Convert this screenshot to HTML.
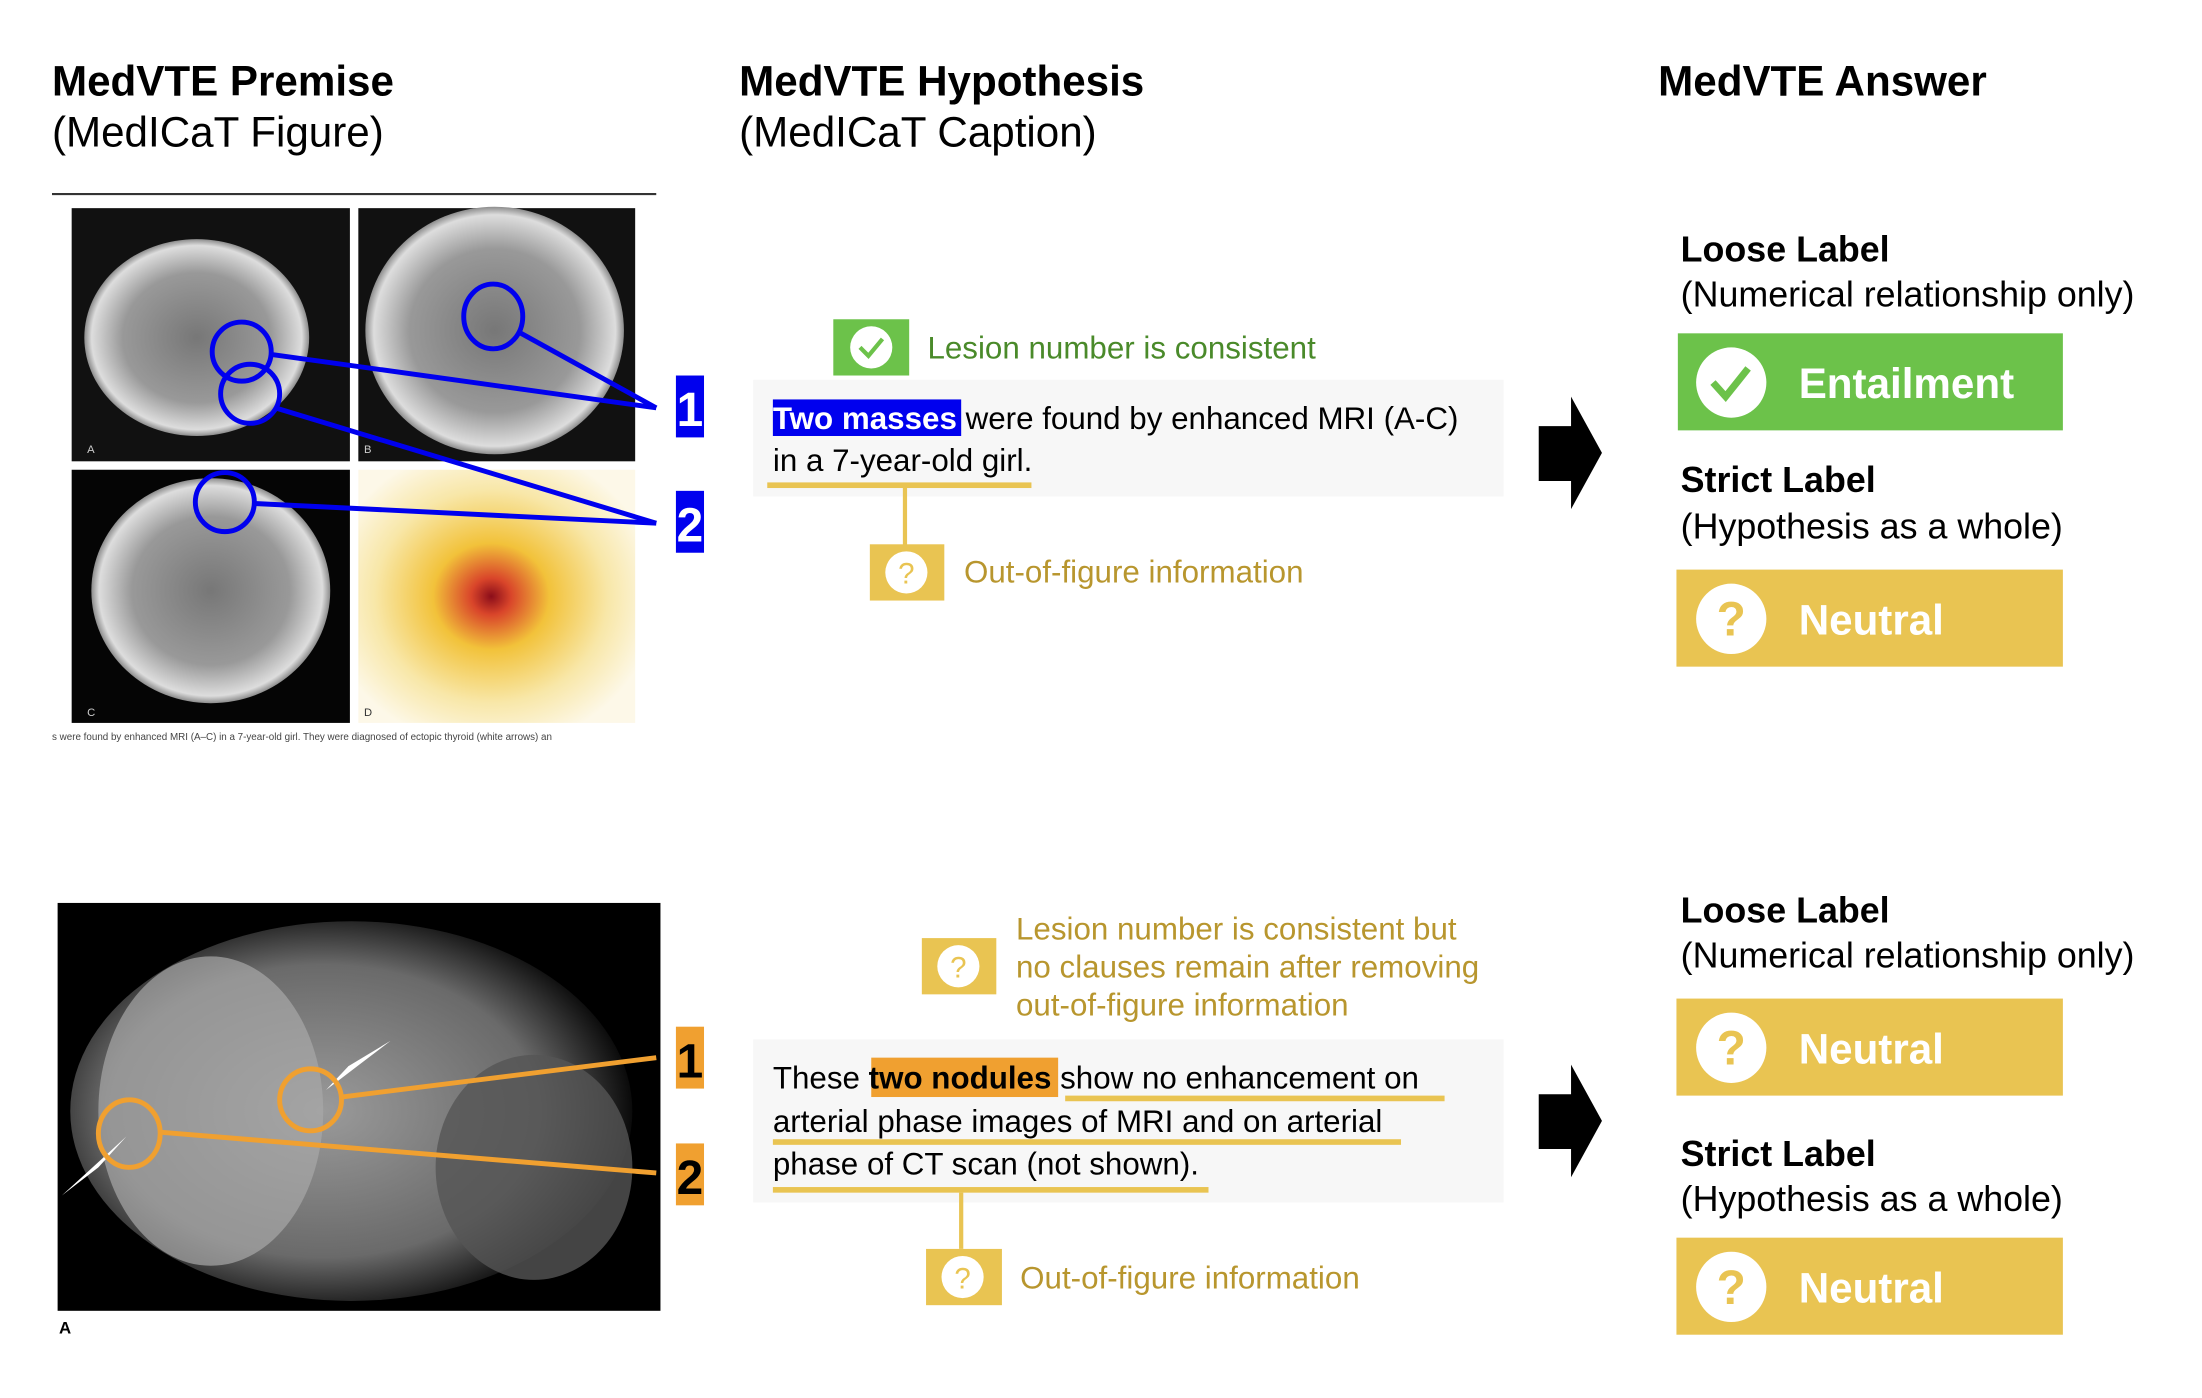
<!DOCTYPE html>
<html><head><meta charset="utf-8"><style>
html,body{margin:0;padding:0;background:#fff;}
svg{display:block;font-family:"Liberation Sans",Arial,sans-serif;}
</style></head><body>
<svg width="2202" height="1398" viewBox="0 0 1567 994" preserveAspectRatio="none">
<defs>
<radialGradient id="hot" cx="0.48" cy="0.5" r="0.6"><stop offset="0" stop-color="#8b0d1a"/><stop offset="0.12" stop-color="#d9452a"/><stop offset="0.35" stop-color="#f2c23a"/><stop offset="0.7" stop-color="#f8e7a8"/><stop offset="1" stop-color="#fdf8e8"/></radialGradient>
<radialGradient id="mri" cx="0.5" cy="0.5" r="0.55"><stop offset="0" stop-color="#777"/><stop offset="0.6" stop-color="#999"/><stop offset="0.85" stop-color="#ddd"/><stop offset="1" stop-color="#111"/></radialGradient>
<radialGradient id="ct" cx="0.45" cy="0.5" r="0.55"><stop offset="0" stop-color="#9a9a9a"/><stop offset="0.7" stop-color="#6a6a6a"/><stop offset="1" stop-color="#0a0a0a"/></radialGradient>
</defs>

<g>
<text x="37" y="68" font-size="30" font-weight="bold">MedVTE Premise</text>
<text x="37" y="104" font-size="30">(MedICaT Figure)</text></g>
<g>
<text x="526" y="68" font-size="30" font-weight="bold">MedVTE Hypothesis</text>
<text x="526" y="104" font-size="30">(MedICaT Caption)</text></g>
<text x="1180" y="68" font-size="30" font-weight="bold">MedVTE Answer</text>
<line x1="37" y1="138" x2="467" y2="138" stroke="#333" stroke-width="1.5"/>

<g><rect x="51" y="148" width="198" height="180" fill="#111"/><ellipse cx="140" cy="240" rx="80" ry="70" fill="url(#mri)"/><text x="62" y="322" font-size="8" fill="#ccc">A</text></g>
<g><rect x="255" y="148" width="197" height="180" fill="#111"/><ellipse cx="352" cy="235" rx="92" ry="88" fill="url(#mri)"/><text x="259" y="322" font-size="8" fill="#ccc">B</text></g>
<g><rect x="51" y="334" width="198" height="180" fill="#050505"/><ellipse cx="150" cy="420" rx="85" ry="80" fill="url(#mri)"/><text x="62" y="509" font-size="8" fill="#ccc">C</text></g>
<g><rect x="255" y="334" width="197" height="180" fill="url(#hot)"/><text x="259" y="509" font-size="8" fill="#333">D</text></g>
<text x="37" y="526" font-size="7" fill="#444">s were found by enhanced MRI (A–C) in a 7-year-old girl. They were diagnosed of ectopic thyroid (white arrows) an</text>

<g stroke="#0000ee" stroke-width="3.5" fill="none">
<circle cx="172" cy="250" r="21"/><circle cx="178" cy="280" r="21"/><ellipse cx="351" cy="225" rx="21" ry="23"/><circle cx="160" cy="357" r="21"/>
<line x1="193" y1="252" x2="467" y2="290"/><line x1="369" y1="236" x2="467" y2="290"/>
<line x1="196" y1="290" x2="467" y2="372"/><line x1="181" y1="358" x2="467" y2="372"/></g>
<g><rect x="481" y="267" width="20" height="44" fill="#0000ee"/><text x="491" y="303" font-size="34" font-weight="bold" fill="#fff" text-anchor="middle">1</text></g>
<g><rect x="481" y="349" width="20" height="44" fill="#0000ee"/><text x="491" y="385" font-size="34" font-weight="bold" fill="#fff" text-anchor="middle">2</text></g>

<g><rect x="593" y="227" width="54" height="40" fill="#6cc24a"/><circle cx="620" cy="247" r="15" fill="#fff"/><path d="M612 247 l6 6 l10 -12" stroke="#6cc24a" stroke-width="3" fill="none"/>
<text x="660" y="255" font-size="22.3" fill="#4a8a2a">Lesion number is consistent</text></g>
<g><rect x="536" y="270" width="534" height="83" fill="#f7f7f7"/>
<rect x="550" y="284" width="134" height="26" fill="#0000ee"/>
<text x="550" y="305" font-size="22.3"><tspan font-weight="bold" fill="#fff">Two masses</tspan><tspan fill="#000"> were found by enhanced MRI (A-C)</tspan></text>
<text x="550" y="335" font-size="22.3">in a 7-year-old girl.</text>
<rect x="546" y="343" width="188" height="4" fill="#e9c452"/></g>
<line x1="644" y1="347" x2="644" y2="388" stroke="#e9c452" stroke-width="3"/>
<g><rect x="619" y="387" width="53" height="40" fill="#e9c452"/><circle cx="645" cy="407" r="15" fill="#fff"/><text x="645" y="415" font-size="21" fill="#e9c452" text-anchor="middle">?</text>
<text x="686" y="414" font-size="22.3" fill="#b8962e">Out-of-figure information</text></g>
<path d="M1095 303 H1118 V282 L1140 322 L1118 362 V342 H1095 Z" fill="#000"/>

<g><text x="1196" y="186" font-size="25.5" font-weight="bold">Loose Label</text><text x="1196" y="218" font-size="25.5">(Numerical relationship only)</text></g>
<g><rect x="1194" y="237" width="274" height="69" fill="#6cc24a"/><circle cx="1232" cy="272" r="25" fill="#fff"/><path d="M1219 272 l9 10 l16 -20" stroke="#6cc24a" stroke-width="5" fill="none"/><text x="1280" y="283" font-size="30" font-weight="bold" fill="#fff">Entailment</text></g>
<g><text x="1196" y="350" font-size="25.5" font-weight="bold">Strict Label</text><text x="1196" y="383" font-size="25.5">(Hypothesis as a whole)</text></g>
<g><rect x="1193" y="405" width="275" height="69" fill="#e9c452"/><circle cx="1232" cy="440" r="25" fill="#fff"/><text x="1232" y="452" font-size="34" font-weight="bold" fill="#e9c452" text-anchor="middle">?</text><text x="1280" y="451" font-size="30" font-weight="bold" fill="#fff">Neutral</text></g>

<g><rect x="41" y="642" width="429" height="290" fill="#000"/><ellipse cx="250" cy="790" rx="200" ry="135" fill="url(#ct)"/><ellipse cx="150" cy="790" rx="80" ry="110" fill="#a8a8a8" opacity="0.7"/><ellipse cx="380" cy="830" rx="70" ry="80" fill="#555" opacity="0.8"/>
<polygon points="44,850 90,808 70,830" fill="#fff"/><polygon points="278,740 232,775 248,758" fill="#fff"/>
<text x="42" y="948" font-size="12" font-weight="bold">A</text></g>
<g stroke="#f0a030" stroke-width="3.5" fill="none">
<ellipse cx="221" cy="782" rx="22" ry="22"/><ellipse cx="92" cy="806" rx="22" ry="24"/>
<line x1="243" y1="780" x2="467" y2="752"/><line x1="114" y1="805" x2="467" y2="834"/></g>
<g><rect x="481" y="730" width="20" height="44" fill="#f0a030"/><text x="491" y="766" font-size="34" font-weight="bold" fill="#000" text-anchor="middle">1</text></g>
<g><rect x="481" y="813" width="20" height="44" fill="#f0a030"/><text x="491" y="849" font-size="34" font-weight="bold" fill="#000" text-anchor="middle">2</text></g>

<g><rect x="656" y="667" width="53" height="40" fill="#e9c452"/><circle cx="682" cy="687" r="15" fill="#fff"/><text x="682" y="695" font-size="21" fill="#e9c452" text-anchor="middle">?</text>
<text x="723" y="668" font-size="22.3" fill="#b8962e">Lesion number is consistent but</text>
<text x="723" y="695" font-size="22.3" fill="#b8962e">no clauses remain after removing</text>
<text x="723" y="722" font-size="22.3" fill="#b8962e">out-of-figure information</text></g>
<g><rect x="536" y="739" width="534" height="116" fill="#f7f7f7"/>
<rect x="620" y="752" width="133" height="28" fill="#f0a030"/>
<text x="550" y="774" font-size="22.3">These <tspan font-weight="bold">two nodules</tspan> show no enhancement on</text>
<text x="550" y="805" font-size="22.3">arterial phase images of MRI and on arterial</text>
<text x="550" y="835" font-size="22.3">phase of CT scan (not shown).</text>
<rect x="758" y="779" width="270" height="4" fill="#e9c452"/><rect x="550" y="810" width="447" height="4" fill="#e9c452"/><rect x="550" y="844" width="310" height="4" fill="#e9c452"/></g>
<line x1="684" y1="848" x2="684" y2="888" stroke="#e9c452" stroke-width="3"/>
<g><rect x="659" y="888" width="54" height="40" fill="#e9c452"/><circle cx="685" cy="908" r="15" fill="#fff"/><text x="685" y="916" font-size="21" fill="#e9c452" text-anchor="middle">?</text>
<text x="726" y="916" font-size="22.3" fill="#b8962e">Out-of-figure information</text></g>
<path d="M1095 778 H1118 V757 L1140 797 L1118 837 V817 H1095 Z" fill="#000"/>

<g><text x="1196" y="656" font-size="25.5" font-weight="bold">Loose Label</text><text x="1196" y="688" font-size="25.5">(Numerical relationship only)</text></g>
<g><rect x="1193" y="710" width="275" height="69" fill="#e9c452"/><circle cx="1232" cy="745" r="25" fill="#fff"/><text x="1232" y="757" font-size="34" font-weight="bold" fill="#e9c452" text-anchor="middle">?</text><text x="1280" y="756" font-size="30" font-weight="bold" fill="#fff">Neutral</text></g>
<g><text x="1196" y="829" font-size="25.5" font-weight="bold">Strict Label</text><text x="1196" y="861" font-size="25.5">(Hypothesis as a whole)</text></g>
<g><rect x="1193" y="880" width="275" height="69" fill="#e9c452"/><circle cx="1232" cy="915" r="25" fill="#fff"/><text x="1232" y="927" font-size="34" font-weight="bold" fill="#e9c452" text-anchor="middle">?</text><text x="1280" y="926" font-size="30" font-weight="bold" fill="#fff">Neutral</text></g>
</svg>
</body></html>
